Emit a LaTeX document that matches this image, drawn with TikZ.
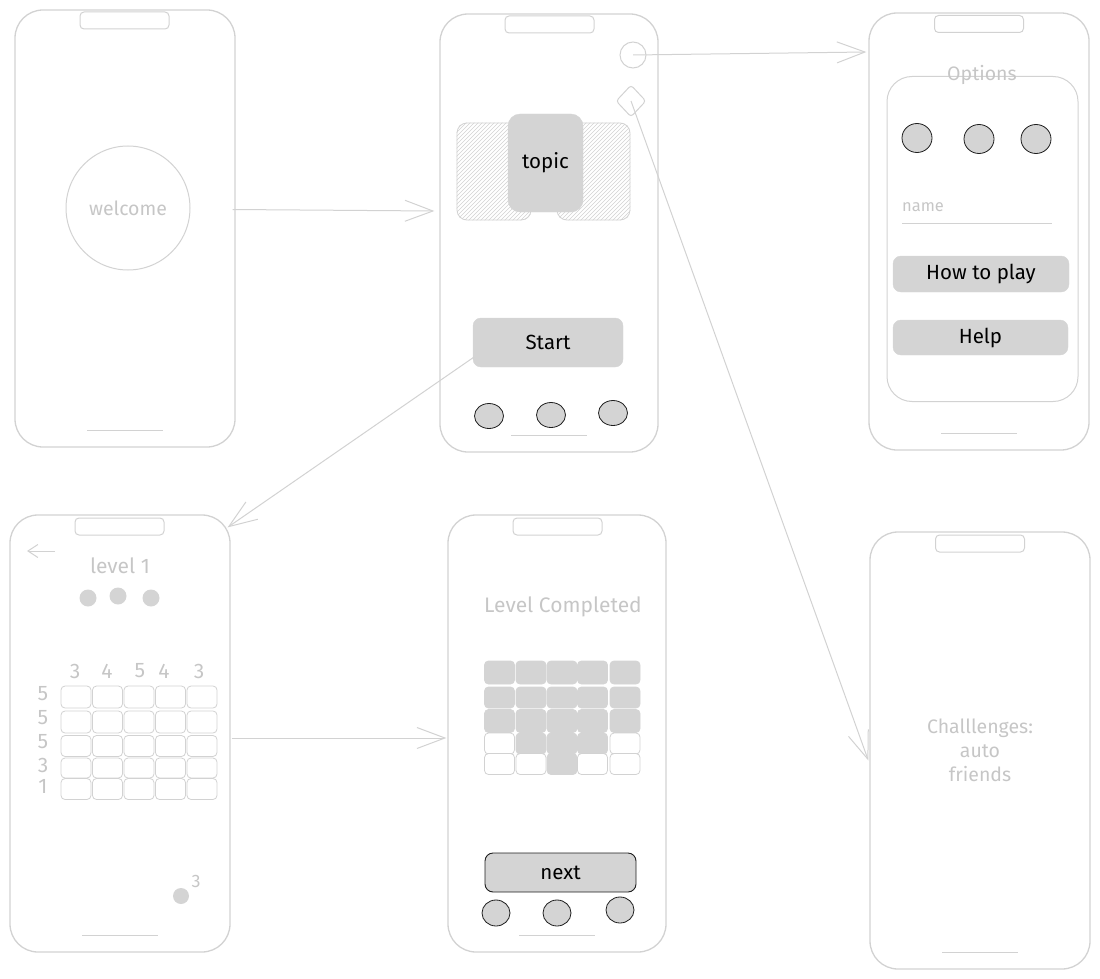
\documentclass[tikz,border=0pt]{standalone}
\usepackage{fontspec}
\setmainfont{Fira Sans}
\usetikzlibrary{arrows.meta,shapes.geometric,calc}
\definecolor{ln}{HTML}{D2D2D2}
\definecolor{fillg}{HTML}{D4D4D4}
\definecolor{txtg}{HTML}{C6C6C6}
\definecolor{dk}{HTML}{1E1E1E}
\tikzset{
  phone/.style={draw=ln, line width=1.3pt, rounded corners=28pt, inner sep=0pt},
  notch/.style={draw=ln, line width=1pt, rounded corners=4pt, minimum width=89, minimum height=17, inner sep=0pt},
  homebar/.style={draw=ln, line width=1.2pt},
  gbtn/.style={fill=fillg, draw=fillg, rounded corners=8pt, inner sep=0pt, text=black, font=\fontsize{20.5}{24}\selectfont},
  circbtn/.style={ellipse, draw=dk, fill=fillg, line width=0.8pt, inner sep=0pt},
  gtxt/.style={text=txtg, inner sep=0pt, font=\fontsize{19.5}{23}\selectfont},
  cell/.style={draw=ln, line width=0.8pt, rounded corners=4pt, minimum width=30, inner sep=0pt},
  s0/.style={cell, fill=white},
  s1/.style={cell, fill=fillg, draw=fillg},
  hatch/.style={draw=ln, line width=0.5pt},
  hcard/.style={draw=ln, line width=0.8pt, rounded corners=10pt, inner sep=0pt},
  conn/.style={draw=ln, line width=1pt, -{Straight Barb[length=28pt,width=21pt]}},
  gdot/.style={circle, fill=fillg, inner sep=0pt, minimum size=17},
}
\begin{document}
\begin{tikzpicture}[x=1pt,y=-1pt]
\useasboundingbox (0,0) rectangle (1100,979);

% ---------- phone 1: welcome ----------
\node[phone, minimum width=220, minimum height=437] (p1) at (125,228.5) {};
\node[notch] (n1) at (124.5,20.5) {};
\draw[homebar] ($(p1.south)+(-38,-17)$) -- ($(p1.south)+(38,-17)$);
\node[circle, draw=ln, line width=1pt, minimum size=124, inner sep=0pt, text=txtg, font=\fontsize{19.5}{23}\selectfont] (wc) at (128,208) {welcome};

% ---------- phone 2: topic ----------
\node[phone, minimum width=218, minimum height=438] (p2) at (549,233) {};
\node[notch] (n2) at (549.5,24.5) {};
\draw[homebar] ($(p2.south)+(-38,-17)$) -- ($(p2.south)+(38,-17)$);
\node[circle, draw=ln, line width=1pt, minimum size=26, inner sep=0pt] (sc) at (633,55) {};
\node[diamond, draw=ln, line width=1pt, rounded corners=3pt, minimum width=30, minimum height=32, inner sep=0pt] (dm) at (631,101) {};
\node[hcard, minimum width=74, minimum height=97] (hl) at (494,171.5) {};
\node[hcard, minimum width=73, minimum height=97] (hr) at (593.5,171.5) {};
\begin{scope}
  \clip[rounded corners=10pt] (hl.north west) rectangle (hl.south east);
  \foreach \i in {-100,-96,...,80} \draw[hatch] ($(hl.south west)+(\i,0)$) -- ++(110,-110);
\end{scope}
\begin{scope}
  \clip[rounded corners=10pt] (hr.north west) rectangle (hr.south east);
  \foreach \i in {-100,-96,...,80} \draw[hatch] ($(hr.south west)+(\i,0)$) -- ++(110,-110);
\end{scope}
\node[gbtn, rounded corners=12pt, minimum width=75, minimum height=98] (tp) at (545.5,163) {topic};
\node[gbtn, minimum width=150, minimum height=49] (st) at (548,342.5) {Start};
\node[circbtn, minimum width=29, minimum height=25] (b21) at (489,416) {};
\node[circbtn, minimum width=29, minimum height=25] (b22) at (551,415) {};
\node[circbtn, minimum width=29, minimum height=25] (b23) at (613,413) {};

% ---------- phone 3: options ----------
\node[phone, minimum width=220, minimum height=437] (p3) at (979,231.5) {};
\node[notch] (n3) at (979,24) {};
\draw[homebar] ($(p3.south)+(-38,-17)$) -- ($(p3.south)+(38,-17)$);
\node[draw=ln, line width=1pt, rounded corners=25pt, minimum width=191, minimum height=325, inner sep=0pt] (oi) at (982.5,239) {};
\node[gtxt] (ot) at (982,75) {Options};
\node[circbtn, minimum width=30, minimum height=29] (o1) at (917,138) {};
\node[circbtn, minimum width=30, minimum height=29] (o2) at (979,139) {};
\node[circbtn, minimum width=30, minimum height=29] (o3) at (1036,139) {};
\node[gtxt, anchor=base west, font=\fontsize{16.5}{19}\selectfont] (nm) at (902,211) {name};
\coordinate (ul1) at (902,223);
\coordinate (ul2) at (1052,223);
\draw[ln, line width=0.8pt] (ul1) -- (ul2);
\node[gbtn, minimum width=176, minimum height=36] (ht) at (981,274) {How to play};
\node[gbtn, minimum width=175, minimum height=35] (hp) at (980.5,337.5) {Help};

% ---------- phone 4: level 1 ----------
\node[phone, minimum width=220, minimum height=437] (p4) at (120,733.5) {};
\node[notch] (n4) at (119.5,526.5) {};
\draw[homebar] ($(p4.south)+(-38,-17)$) -- ($(p4.south)+(38,-17)$);
\coordinate (ba1) at (55,551);
\coordinate (ba2) at (27,551);
\draw[draw=ln, line width=1pt, -{Straight Barb[length=10pt,width=13pt]}] (ba1) -- (ba2);
\node[gtxt, font=\fontsize{21}{24}\selectfont] (lv) at (120,566) {level 1};
\node[gdot] (d1) at (88,598) {};
\node[gdot] (d2) at (118,596) {};
\node[gdot] (d3) at (151,598) {};
\foreach \n/\x/\t in {1/75/3, 2/107/4, 3/140/5, 4/164/4, 5/199/3}
  \node[gtxt, font=\fontsize{21}{24}\selectfont] (cn\n) at (\x,671) {\t};
\foreach \n/\y/\t in {1/694/5, 2/718/5, 3/742/5, 4/765/3, 5/786/1}
  \node[gtxt, font=\fontsize{21}{24}\selectfont] (rn\n) at (43,\y) {\t};
\foreach \r/\y/\h in {1/697/22, 2/722/22, 3/746/21, 4/768/20, 5/789/21}
  \foreach \c/\x in {1/76,2/107.5,3/139,4/170.5,5/202}
    \node[s0, minimum height=\h] (g\r\c) at (\x,\y) {};
\node[gdot, minimum size=16] (d4) at (181,896) {};
\node[gtxt, font=\fontsize{18}{21}\selectfont] (d4t) at (196,881) {3};

% ---------- phone 5: level completed ----------
\node[phone, minimum width=218, minimum height=437] (p5) at (557,733.5) {};
\node[notch] (n5) at (557.5,526.5) {};
\draw[homebar] ($(p5.south)+(-38,-17)$) -- ($(p5.south)+(38,-17)$);
\node[gtxt, font=\fontsize{21}{24}\selectfont] (lc) at (563,607) {Level Completed};
\foreach \r/\y/\h/\a/\b/\cc/\d/\e in {1/672.5/23/1/1/1/1/1, 2/697.5/21/1/1/1/1/1, 3/721/23/1/1/1/1/1, 4/743.5/21/0/1/1/1/0, 5/764/21/0/0/1/0/0}
  \foreach \c/\x/\f in {1/499.5/\a, 2/531/\b, 3/562/\cc, 4/592.5/\d, 5/625/\e}
    \node[s\f, minimum height=\h] (k\r\c) at (\x,\y) {};
\node[gbtn, draw=dk, line width=0.9pt, minimum width=151, minimum height=39] (nx) at (560.5,872.5) {next};
\node[circbtn, minimum width=28, minimum height=26] (b51) at (496,913) {};
\node[circbtn, minimum width=28, minimum height=26] (b52) at (557,913) {};
\node[circbtn, minimum width=28, minimum height=26] (b53) at (620,910) {};

% ---------- phone 6: challenges ----------
\node[phone, minimum width=220, minimum height=437] (p6) at (980,750.5) {};
\node[notch] (n6) at (980,543.5) {};
\draw[homebar] ($(p6.south)+(-38,-17)$) -- ($(p6.south)+(38,-17)$);
\node[gtxt, align=center, font=\fontsize{19.5}{24}\selectfont] (ch) at (980,750) {Challlenges:\\auto\\friends};

% ---------- connectors ----------
\draw[conn] ($(p1.east)+(-3,-19)$) -- ($(p2.west)+(-5,-22)$);
\draw[conn] (sc.center) -- ($(p3.west)+(-2,-179.5)$);
\draw[conn] ($(st.south west)+(1,-10)$) -- ($(p4.north east)+(-3,13)$);
\draw[conn] (dm.center) -- ($(p6.west)+(-1,10)$);
\draw[conn] ($(p4.east)+(1,4.5)$) -- ($(p5.west)+(-1,4.5)$);
\end{tikzpicture}
\end{document}
